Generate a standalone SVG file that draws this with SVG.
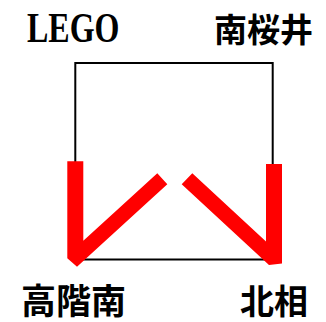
<svg xmlns="http://www.w3.org/2000/svg" width="326" height="322" viewBox="0 0 326 322">
<style>
.lbl{font-family:"Liberation Serif","Noto Sans CJK JP",serif;font-weight:bold;fill:#000}
.track{fill:#ff0000;stroke:none}
</style>
<rect width="326" height="322" fill="#fff"/>
<g id="connectors">
<rect x="75.3" y="63" width="197.4" height="196.5" fill="none" stroke="#000" stroke-width="2"/>
<polygon class="track" points="67.3,161.3 83.3,161.3 83.3,240.8 157.3,173.3 167.3,184.3 77,266.7 67.3,258.3"/>
<polygon class="track" points="266,164 282,164 282,263.5 269,265 181.7,184.3 192.3,173.3 266,241.4"/>
</g>
<g id="node-lego"><text class="lbl" transform="translate(27,42) scale(1,1.3)" font-size="32">LEGO</text></g>
<g id="node-minamisakurai"><text class="lbl" x="214" y="42" font-size="33">南桜井</text></g>
<g id="node-takashinami"><text class="lbl" x="21" y="314" font-size="35">高階南</text></g>
<g id="node-kitaai"><text class="lbl" x="240" y="314" font-size="34">北相</text></g>
</svg>
